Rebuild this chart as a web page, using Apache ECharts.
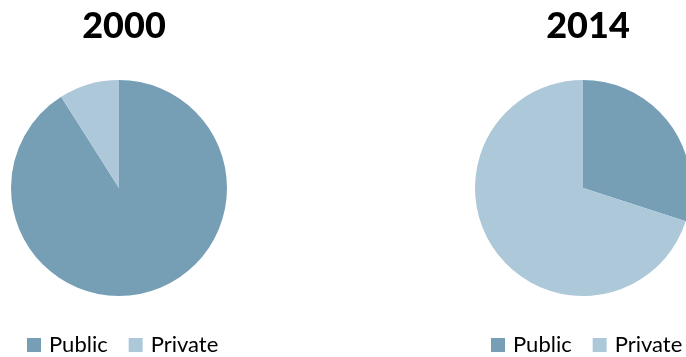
<!DOCTYPE html>
<html>
<head>
<meta charset="utf-8">
<script src="https://cdn.jsdelivr.net/npm/echarts@6/dist/echarts.min.js"></script>
<style>
  html, body { margin: 0; padding: 0; background: #fff; }
  #chart { width: 686px; height: 357px; }
</style>
</head>
<body>
<div id="chart"></div>
<script>
// Share of public vs private, two snapshot years
const categories = ['Public', 'Private'];
const years = ['2000', '2014'];
const values2000 = [91, 9];
const values2014 = [30, 70];

const colors = ['#769FB6', '#ADC8D9'];
const font = 'Lato, "Open Sans", sans-serif';

const chart = echarts.init(document.getElementById('chart'), null, { renderer: 'canvas' });

function pieSeries(name, values, cx) {
  return {
    name: name,
    type: 'pie',
    center: [cx, 188],
    radius: [0, 108],
    startAngle: 90,
    clockwise: true,
    silent: true,
    label: { show: false },
    labelLine: { show: false },
    itemStyle: { borderWidth: 0 },
    emphasis: { disabled: true },
    data: categories.map((c, i) => ({ name: c, value: values[i] }))
  };
}

function legend(left) {
  return {
    data: categories,
    left: left,
    top: 333,
    padding: 0,
    icon: 'rect',
    itemWidth: 14,
    itemHeight: 14,
    itemGap: 21,
    selectedMode: false,
    textStyle: { fontFamily: font, fontSize: 22, color: '#000', lineHeight: 24, padding: [0, 0, 0, 3] }
  };
}

chart.setOption({
  animation: false,
  color: colors,
  title: [
    { text: years[0], left: 119, top: 3, textAlign: 'center',
      textStyle: { fontFamily: font, fontWeight: 900, fontSize: 36, color: '#000' } },
    { text: years[1], left: 583, top: 3, textAlign: 'center',
      textStyle: { fontFamily: font, fontWeight: 900, fontSize: 36, color: '#000' } }
  ],
  legend: [legend(27), legend(491)],
  series: [
    pieSeries(years[0], values2000, 119),
    pieSeries(years[1], values2014, 583)
  ]
});
</script>
</body>
</html>
